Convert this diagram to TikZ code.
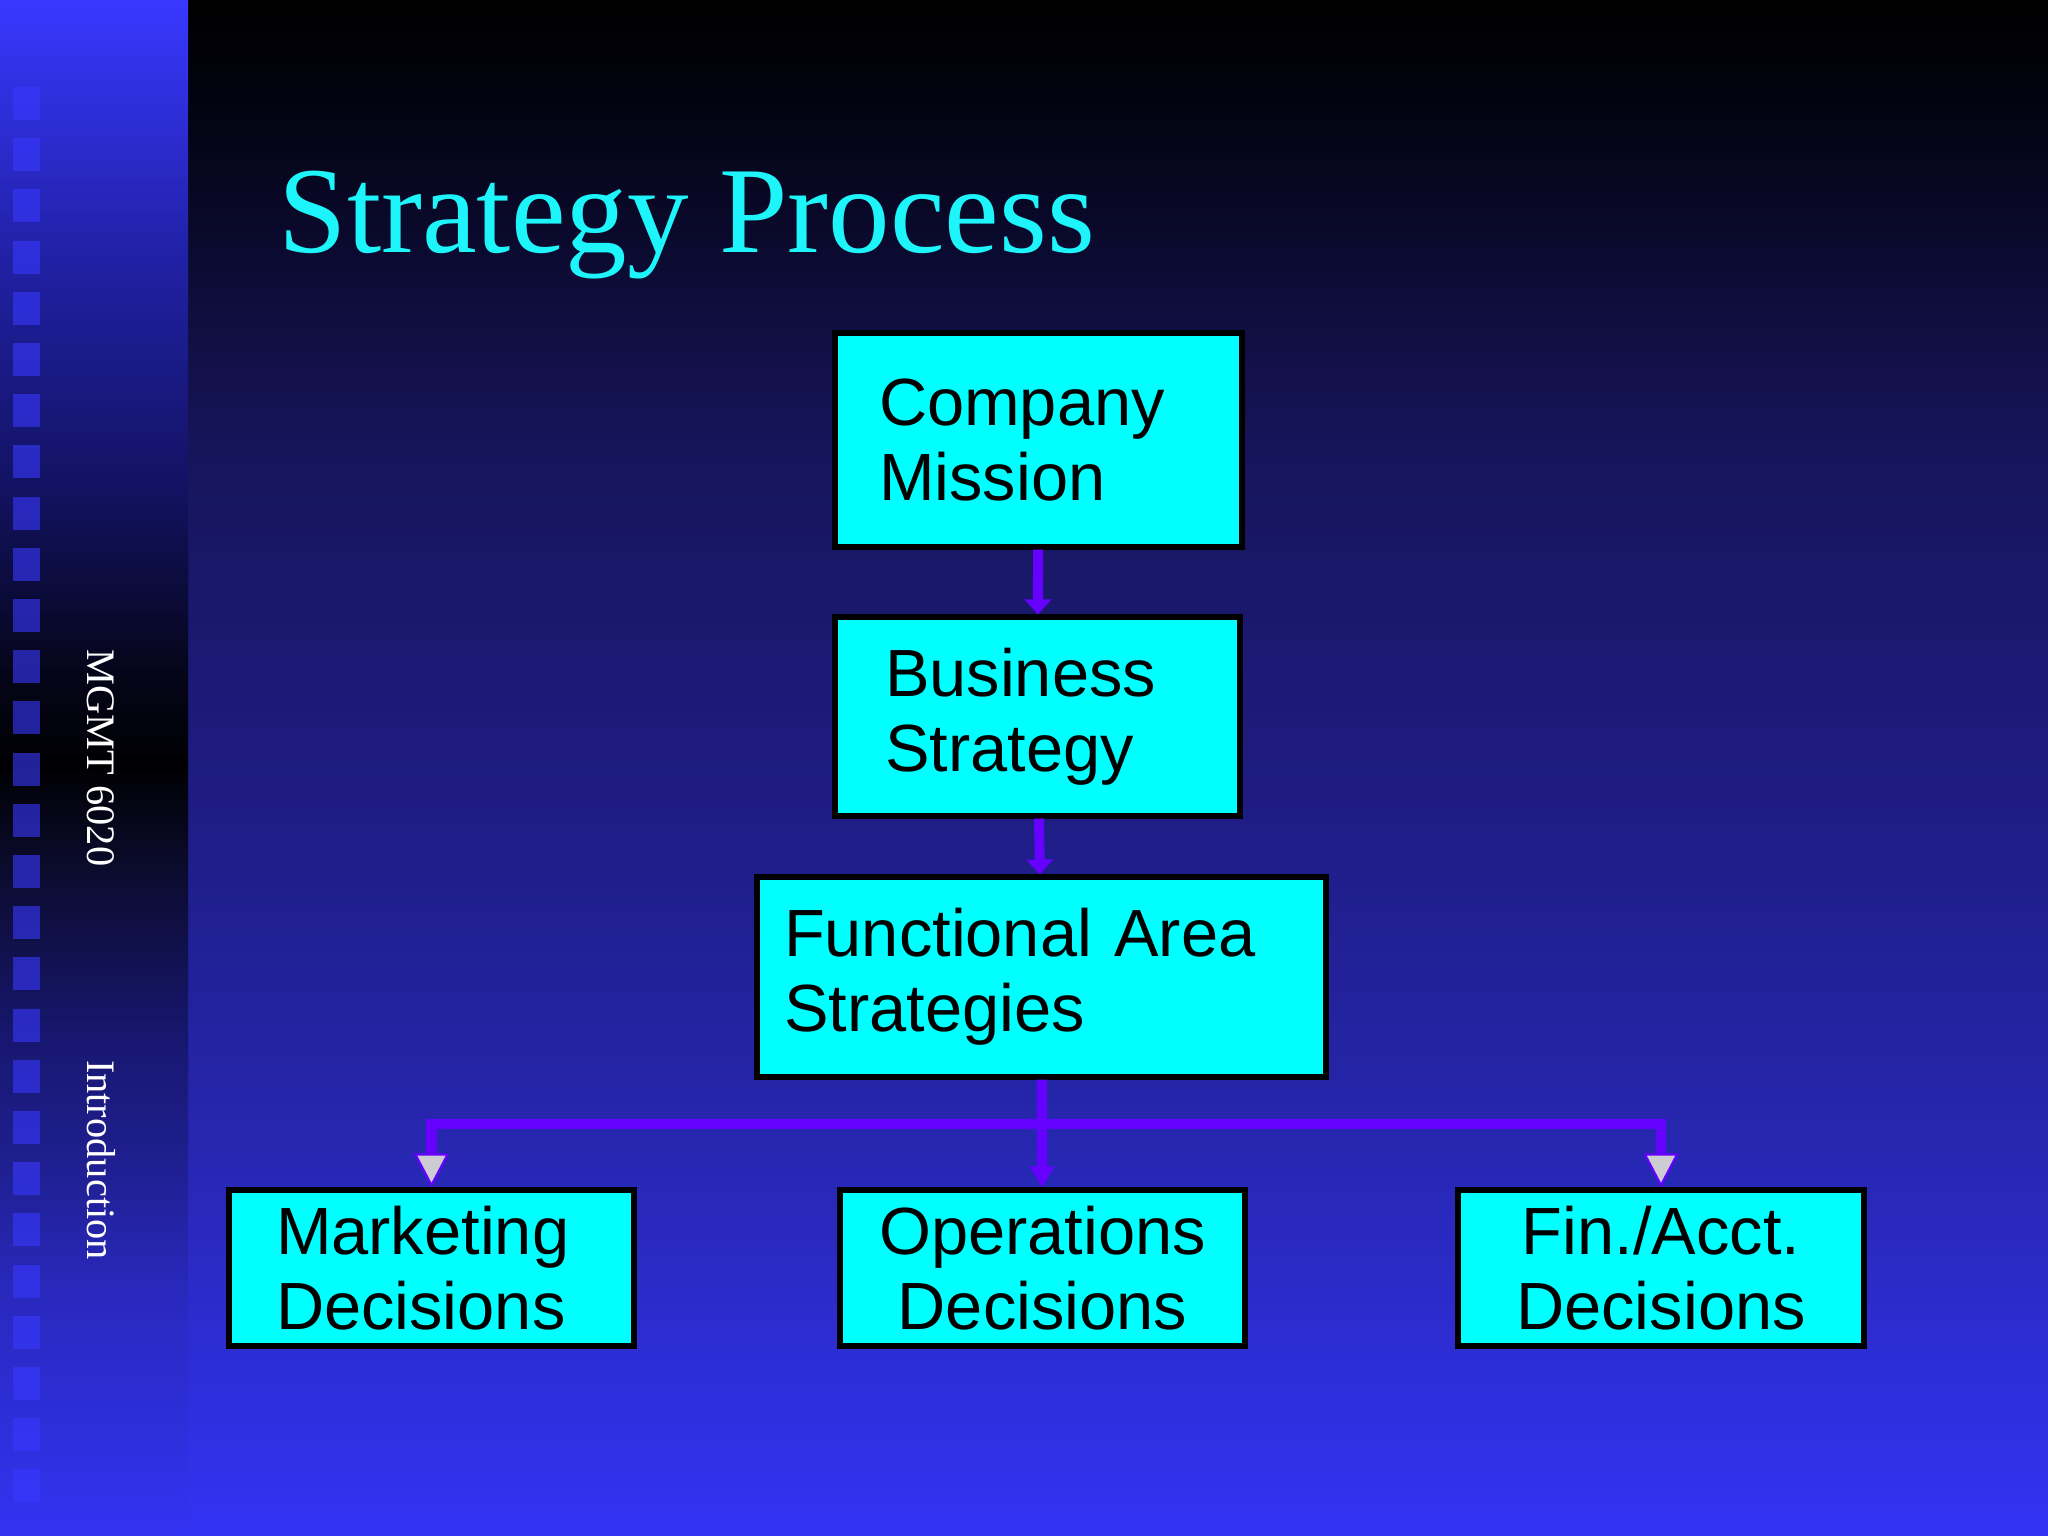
\documentclass[tikz,border=0pt]{standalone}
\usepackage{fontspec}
\setmainfont{Liberation Serif}
\setsansfont{Liberation Sans}
\usetikzlibrary{arrows.meta}

\definecolor{boxcyan}{RGB}{0,255,255}
\definecolor{titlecyan}{RGB}{30,245,250}
\definecolor{linkpurple}{RGB}{102,0,255}
\definecolor{tipgray}{RGB}{204,204,210}
\definecolor{stripsq}{RGB}{56,56,255}

\pgfdeclareverticalshading{mainbg}{100bp}{rgb(0bp)=(0.2,0.2,0.96); rgb(25bp)=(0.2,0.2,0.96); rgb(37.9bp)=(0.15,0.15,0.69); rgb(46.4bp)=(0.125,0.118,0.55); rgb(60.7bp)=(0.086,0.08,0.35); rgb(71.7bp)=(0.01,0.01,0.06); rgb(75bp)=(0,0,0); rgb(100bp)=(0,0,0)}
\pgfdeclareverticalshading{stripbg}{100bp}{rgb(0bp)=(0.2,0.2,0.95); rgb(25bp)=(0.2,0.2,0.95); rgb(32.7bp)=(0.16,0.16,0.75); rgb(37.3bp)=(0.12,0.12,0.56); rgb(41.2bp)=(0.09,0.09,0.44); rgb(47.1bp)=(0.04,0.04,0.16); rgb(50.1bp)=(0,0,0.01); rgb(53.1bp)=(0.02,0.02,0.1); rgb(59bp)=(0.07,0.07,0.38); rgb(66.9bp)=(0.13,0.13,0.66); rgb(75bp)=(0.22,0.22,1); rgb(100bp)=(0.22,0.22,1)}

\begin{document}
\begin{tikzpicture}[
    box/.style={draw=black, line width=1.45pt, fill=boxcyan, inner ysep=0pt,
        font=\sffamily\fontsize{19}{21.3}\selectfont},
    title/.style={text=titlecyan, inner sep=0pt, font=\fontsize{35}{40}\selectfont},
    side/.style={text=white, inner sep=0pt, font=\fontsize{11.5}{13}\selectfont},
    link/.style={draw=linkpurple, line width=2.85pt, -{Triangle[width=0.26cm,length=0.15cm]}},
    stem/.style={draw=linkpurple, line width=2.85pt, -{Triangle[width=0.23cm,length=0.21cm]}},
    fork/.style={draw=linkpurple, line width=2.85pt,
        -{Triangle[width=0.35cm,length=0.34cm,fill=tipgray,line width=0.6pt]}}
    ]
        \useasboundingbox (0,0) rectangle (20.48,15.36);
        \shade[shading=mainbg] (1.88,0) rectangle (20.48,15.36);
        \shade[shading=stripbg] (0,0) rectangle (1.88,15.36);
        \foreach \k in {0,...,27}
            \fill[stripsq, opacity=0.6] (0.13,{15.36-0.87-0.512*\k}) rectangle ++(0.27,-0.33);

        \node[side, rotate=-90] (course) at (1.01,7.78) {MGMT 6020};
        \node[side, rotate=-90] (topic) at (1.01,3.76) {Introduction};
        \node[title, anchor=base west] (heading) at (2.78,12.83) {Strategy Process};

        \node[box, align=left, text width=3.19cm, inner xsep=0.44cm, minimum height=2.14cm] (mission) at (10.385,10.96) {Company\\Mission};
        \node[box, align=left, text width=3.05cm, inner xsep=0.50cm, minimum height=1.99cm] (business) at (10.375,8.195) {Business\\Strategy};
        \node[box, align=left, text width=5.15cm, inner xsep=0.27cm, minimum height=2.00cm] (functional) at (10.415,5.59) {Functional Area\\Strategies};
        \node[box, align=left, text width=3.11cm, inner xsep=0.47cm, minimum height=1.56cm] (marketing) at (4.315,2.68) {Marketing\\Decisions};
        \node[box, align=center, inner xsep=0pt, minimum width=4.05cm, minimum height=1.56cm] (operations) at (10.425,2.68) {Operations\\Decisions};
        \node[box, align=center, inner xsep=0pt, minimum width=4.06cm, minimum height=1.56cm] (finance) at (16.61,2.68) {Fin./Acct.\\Decisions};

        \draw[link] (mission) -- (business);
        \draw[link] (business) -- (functional);
        \path (functional.south) ++(0,-0.44) coordinate (split);
        \draw[fork] (split) -| (marketing.north);
        \draw[fork] (split) -| (finance.north);
        \draw[stem] (functional) -- (operations);
    \end{tikzpicture}
\end{document}
